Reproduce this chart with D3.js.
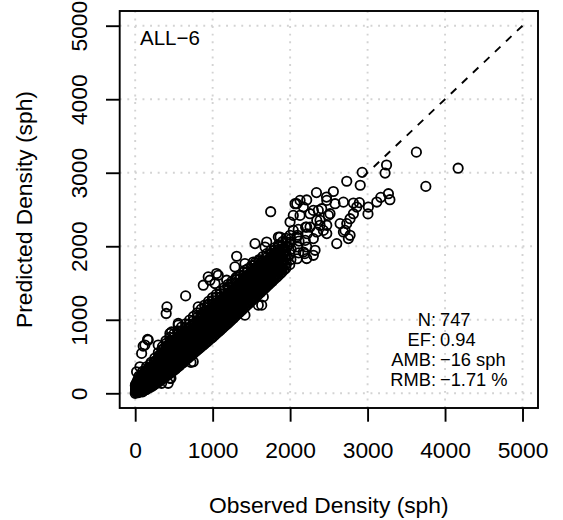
<!DOCTYPE html>
<html><head><meta charset="utf-8">
<script src="https://cdn.jsdelivr.net/npm/d3@7"></script>
<style>body{margin:0;background:#fff}svg{display:block}text{font-family:"Liberation Sans",Arial,Helvetica,sans-serif;fill:#000}</style>
</head><body><svg id="chart" width="563" height="520"></svg>
<script>
const xTicks = [0, 1000, 2000, 3000, 4000, 5000];
const yTicks = [0, 1000, 2000, 3000, 4000, 5000];
const panelLabel = "ALL\u22126";
const statLabels = ["N:", "EF:", "AMB:", "RMB:"];
const statValues = ["747", "0.94", "\u221216 sph", "\u22121.71 %"];
const refLine = [[5000, 5000], [2950, 2950]];

// dense band of sites (observed, predicted) - outer envelope
const band = [
[0,0],[10,30],[4,60],[20,15],[15,90],[6,120],[22,150],[12,45],[28,70],[2,105],
[45,10],[52,50],[48,90],[55,130],[42,170],[58,210],[50,235],[40,65],
[95,20],[103,60],[98,100],[105,140],[92,180],[108,220],[100,260],[96,300],
[145,50],[152,95],[148,140],[155,185],[142,230],[158,275],[150,320],[146,360],
[195,80],[203,125],[198,170],[205,215],[192,260],[208,305],[200,350],[196,395],[204,420],
[245,115],[253,160],[248,205],[255,250],[242,295],[258,340],[250,385],[246,430],[254,480],
[295,150],[303,195],[298,240],[305,285],[292,330],[308,375],[300,420],[296,465],[304,510],[299,555],
[345,190],[353,235],[348,280],[355,325],[342,370],[358,415],[350,460],[346,505],[354,550],[349,595],[352,635],
[395,230],[403,275],[398,320],[405,365],[392,410],[408,455],[400,500],[396,545],[404,590],[399,635],[402,680],[397,715],
[445,270],[453,315],[448,360],[455,405],[442,450],[458,495],[450,540],[446,585],[454,630],[449,675],[452,720],[447,760],
[495,310],[503,355],[498,400],[505,445],[492,490],[508,535],[500,580],[496,625],[504,670],[499,715],[502,760],[497,805],
[545,355],[553,400],[548,445],[555,490],[542,535],[558,580],[550,625],[546,670],[554,715],[549,760],[552,805],[547,850],
[595,400],[603,445],[598,490],[605,535],[592,580],[608,625],[600,670],[596,715],[604,760],[599,805],[602,850],[597,900],
[645,445],[653,495],[648,545],[655,595],[642,645],[658,695],[650,745],[646,795],[654,845],[649,895],[652,945],
[695,490],[703,540],[698,590],[705,640],[692,690],[708,740],[700,790],[696,840],[704,890],[699,940],[702,995],
[745,535],[753,585],[748,635],[755,685],[742,735],[758,785],[750,835],[746,885],[754,935],[749,985],[752,1045],
[795,580],[803,630],[798,680],[805,730],[792,780],[808,830],[800,880],[796,930],[804,980],[799,1030],[802,1095],
[845,625],[853,675],[848,725],[855,775],[842,825],[858,875],[850,925],[846,975],[854,1025],[849,1075],[852,1145],
[895,670],[903,720],[898,770],[905,820],[892,870],[908,920],[900,970],[896,1020],[904,1070],[899,1120],[902,1170],[897,1200],
[945,715],[953,765],[948,815],[955,865],[942,915],[958,965],[950,1015],[946,1065],[954,1115],[949,1165],[952,1215],[947,1250],
[995,760],[1003,810],[998,860],[1005,910],[992,960],[1008,1010],[1000,1060],[996,1110],[1004,1160],[999,1210],[1002,1260],[997,1300],
[1045,808],[1053,858],[1048,908],[1055,958],[1042,1008],[1058,1058],[1050,1108],[1046,1158],[1054,1208],[1049,1258],[1052,1308],[1047,1345],
[1095,855],[1103,905],[1098,955],[1105,1005],[1092,1055],[1108,1105],[1100,1155],[1096,1205],[1104,1255],[1099,1305],[1102,1355],[1097,1390],
[1145,903],[1153,953],[1148,1003],[1155,1053],[1142,1103],[1158,1153],[1150,1203],[1146,1253],[1154,1303],[1149,1353],[1152,1403],[1147,1435],
[1195,950],[1203,1000],[1198,1050],[1205,1100],[1192,1150],[1208,1200],[1200,1250],[1196,1300],[1204,1350],[1199,1400],[1202,1450],[1197,1480],
[1245,1000],[1253,1050],[1248,1100],[1255,1150],[1242,1200],[1258,1250],[1250,1300],[1246,1350],[1254,1400],[1249,1450],[1252,1500],[1247,1522],
[1295,1050],[1303,1100],[1298,1150],[1305,1200],[1292,1250],[1308,1300],[1300,1350],[1296,1400],[1304,1450],[1299,1500],[1302,1545],[1297,1565],
[1345,1100],[1353,1150],[1348,1200],[1355,1250],[1342,1300],[1358,1350],[1350,1400],[1346,1450],[1354,1500],[1349,1550],[1352,1608],
[1395,1150],[1403,1200],[1398,1250],[1405,1300],[1392,1350],[1408,1400],[1400,1450],[1396,1500],[1404,1550],[1399,1600],[1402,1650],
[1445,1200],[1453,1250],[1448,1300],[1455,1350],[1442,1400],[1458,1450],[1450,1500],[1446,1550],[1454,1600],[1449,1650],[1452,1692],
[1495,1250],[1503,1300],[1498,1350],[1505,1400],[1492,1450],[1508,1500],[1500,1550],[1496,1600],[1504,1650],[1499,1700],[1502,1735],
[1545,1300],[1553,1350],[1548,1400],[1555,1450],[1542,1500],[1558,1550],[1550,1600],[1546,1650],[1554,1700],[1549,1750],[1552,1778],
[1595,1350],[1603,1400],[1598,1450],[1605,1500],[1592,1550],[1608,1600],[1600,1650],[1596,1700],[1604,1750],[1599,1800],[1602,1820],
[1645,1400],[1653,1450],[1648,1500],[1655,1550],[1642,1600],[1658,1650],[1650,1700],[1646,1750],[1654,1800],[1649,1860],
[1695,1450],[1703,1500],[1698,1550],[1705,1600],[1692,1650],[1708,1700],[1700,1750],[1696,1800],[1704,1850],[1699,1900],
[1745,1500],[1753,1550],[1748,1600],[1755,1650],[1742,1700],[1758,1750],[1750,1800],[1746,1850],[1754,1900],[1749,1940],
[1795,1550],[1803,1600],[1798,1650],[1805,1700],[1792,1750],[1808,1800],[1800,1850],[1796,1900],[1804,1950],[1799,1980],
[1845,1600],[1853,1650],[1848,1700],[1855,1750],[1842,1800],[1858,1850],[1850,1900],[1846,1950],[1854,2000],[1849,2022],
[1895,1650],[1903,1700],[1898,1750],[1905,1800],[1892,1850],[1908,1900],[1900,1950],[1896,2000],[1904,2065],
[1945,1700],[1953,1760],[1948,1820],[1955,1880],[1942,1940],[1958,2000],[1950,2060],[1946,2108],
[1995,1750],[2010,1820],[1998,1890],[2012,1960],[1992,2030],[2008,2100],[2000,2150],
[2090,1830],[2110,1910],[2098,1990],[2115,2070],[2095,2150],[2105,2230],
[2190,1900],[2215,1990],[2195,2080],[2220,2170],[2200,2260]
];

// dense core of the band
const bandCore = [
[5,20],[15,50],[25,35],[8,80],[30,100],[18,130],[35,60],[28,160],[38,190],[62,30],[68,75],[65,115],[72,155],[60,195],[75,240],
[78,100],[85,60],[115,40],[120,80],[125,120],[118,160],[128,200],[122,240],[112,275],[135,70],[138,110],[132,150],[140,190],[135,230],[130,290],
[172,75],[178,120],[170,165],[180,210],[175,255],[168,300],[177,340],
[222,100],[228,145],[220,190],[230,235],[225,280],[218,325],[227,370],
[272,135],[278,180],[270,225],[280,270],[275,315],[268,360],[277,405],[273,450],
[322,170],[328,215],[320,260],[330,305],[325,350],[318,395],[327,440],[323,485],[326,530],
[372,210],[378,255],[370,300],[380,345],[375,390],[368,435],[377,480],[373,525],[376,570],[371,610],
[422,250],[428,295],[420,340],[430,385],[425,430],[418,475],[427,520],[423,565],[426,610],[421,655],
[472,290],[478,335],[470,380],[480,425],[475,470],[468,515],[477,560],[473,605],[476,650],[471,695],
[522,330],[528,375],[520,420],[530,465],[525,510],[518,555],[527,600],[523,645],[526,690],[521,735],
[572,375],[578,420],[570,465],[580,510],[575,555],[568,600],[577,645],[573,690],[576,735],[571,780],
[622,420],[628,465],[620,510],[630,555],[625,600],[618,645],[627,690],[623,735],[626,780],[621,825],
[672,470],[678,520],[670,570],[680,620],[675,670],[668,720],[677,770],[673,820],[676,870],
[722,515],[728,565],[720,615],[730,665],[725,715],[718,765],[727,815],[723,865],[726,915],
[772,560],[778,610],[770,660],[780,710],[775,760],[768,810],[777,860],[773,910],[776,960],
[822,605],[828,655],[820,705],[830,755],[825,805],[818,855],[827,905],[823,955],[826,1005],
[872,650],[878,700],[870,750],[880,800],[875,850],[868,900],[877,950],[873,1000],[876,1050],
[922,695],[928,745],[920,795],[930,845],[925,895],[918,945],[927,995],[923,1045],[926,1095],
[972,740],[978,790],[970,840],[980,890],[975,940],[968,990],[977,1040],[973,1090],[976,1140],
[1022,785],[1028,835],[1020,885],[1030,935],[1025,985],[1018,1035],[1027,1085],[1023,1135],[1026,1185],
[1072,833],[1078,883],[1070,933],[1080,983],[1075,1033],[1068,1083],[1077,1133],[1073,1183],[1076,1233],
[1122,880],[1128,930],[1120,980],[1130,1030],[1125,1080],[1118,1130],[1127,1180],[1123,1230],[1126,1280],
[1172,928],[1178,978],[1170,1028],[1180,1078],[1175,1128],[1168,1178],[1177,1228],[1173,1278],[1176,1328],
[1222,975],[1228,1025],[1220,1075],[1230,1125],[1225,1175],[1218,1225],[1227,1275],[1223,1325],[1226,1375],
[1272,1025],[1278,1075],[1270,1125],[1280,1175],[1275,1225],[1268,1275],[1277,1325],[1273,1375],[1276,1425],
[1322,1075],[1328,1125],[1320,1175],[1330,1225],[1325,1275],[1318,1325],[1327,1375],[1323,1425],[1326,1475],
[1372,1125],[1378,1175],[1370,1225],[1380,1275],[1375,1325],[1368,1375],[1377,1425],[1373,1475],[1376,1525],
[1422,1175],[1428,1225],[1420,1275],[1430,1325],[1425,1375],[1418,1425],[1427,1475],[1423,1525],[1426,1575],
[1472,1225],[1478,1275],[1470,1325],[1480,1375],[1475,1425],[1468,1475],[1477,1525],[1473,1575],[1476,1625],
[1522,1275],[1528,1325],[1520,1375],[1530,1425],[1525,1475],[1518,1525],[1527,1575],[1523,1625],[1526,1675],
[1572,1325],[1578,1375],[1570,1425],[1580,1475],[1575,1525],[1568,1575],[1577,1625],[1573,1675],[1576,1725],
[1622,1375],[1628,1425],[1620,1475],[1630,1525],[1625,1575],[1618,1625],[1627,1675],[1623,1725],[1626,1775],
[1672,1425],[1678,1475],[1670,1525],[1680,1575],[1675,1625],[1668,1675],[1677,1725],[1673,1775],
[1722,1475],[1728,1525],[1720,1575],[1730,1625],[1725,1675],[1718,1725],[1727,1775],[1723,1825],
[1772,1525],[1778,1575],[1770,1625],[1780,1675],[1775,1725],[1768,1775],[1777,1825],[1773,1875],
[1822,1575],[1828,1625],[1820,1675],[1830,1725],[1825,1775],[1818,1825],[1827,1875],[1823,1925],
[1872,1625],[1878,1675],[1870,1725],[1880,1775],[1875,1825],[1868,1875],[1877,1925],
[1922,1680],[1928,1740],[1920,1800],[1930,1860],[1925,1920],[1918,1980]
];

// individually readable sites
const scattered = [
[3630,3280],[4169,3062],[3752,2814],[3245,3105],[3226,2995],[2930,3005],[2905,2830],[2731,2884],[3269,2715],[3170,2665],
[3288,2633],[2558,2745],[2340,2730],[2214,2630],[2470,2669],[2688,2600],[2817,2588],[2894,2593],[3010,2533],[3005,2440],
[2774,2375],[2731,2308],[2688,2194],[2752,2104],[2602,2036],[2473,2172],[2386,2285],[2344,2194],[2300,2104],[2494,2420],
[2257,2443],[2645,2308],[2817,2443],[2860,2533],[3119,2601],[2580,2579],[2300,2488],[2408,2511],[2515,2443],[2171,2533],
[2128,2624],[2429,2216],[2214,2261],[2709,2216],[2774,2149],[2300,1877],[2214,1833],[2085,2579],[2364,2488],[2473,2624],
[2128,2420],[2344,2352],[2257,2261],[2473,2285],[2322,1945],[2386,2352],[2063,2579],
[1749,2470],[2041,2216],[2085,2126],[1870,2126],[1547,2036],[1310,1864],[1676,1990],[1762,1900],[1912,1968],[2171,1922],
[1999,2329],[2041,2420],[1698,2058],[1848,2126],[1999,2058],[651,1325],[410,1176],[400,1086],[943,1583],[1072,1606],
[879,1470],[1181,1538],[1310,1583],[1417,1674],[1525,1786],[1589,1697],[1417,1765],[1288,1719],[1030,1493],[1633,1583],
[1547,1470],[814,1176],[943,1199],[1417,1063],[1589,1199],[556,950],[470,836],[771,904],[1633,1199],[1654,1311],
[160,733],[103,642],[18,293],[61,361],[720,421],[461,204],[341,136],[168,724],[125,656],[297,656],
[83,543],[448,204],[426,136],[749,429],[685,497],[556,927],[448,814],[965,1538],[1051,1629]
];

const sites = band.concat(bandCore, scattered);

const svg = d3.select("#chart");
const L = 119.7, R = 538, T = 11, B = 408;
const x = d3.scaleLinear().domain([-200, 5200]).range([L, R]);
const y = d3.scaleLinear().domain([-200, 5200]).range([B, T]);
const lw = 1.9;

// grid
const grid = svg.append("g").attr("stroke", "#d3d3d3").attr("stroke-width", lw).attr("stroke-dasharray", "1.9,5.7");
grid.selectAll("line.v").data(xTicks).join("line").attr("class", "v")
  .attr("x1", d => x(d)).attr("x2", d => x(d)).attr("y1", B).attr("y2", T);
grid.selectAll("line.h").data(yTicks).join("line").attr("class", "h")
  .attr("y1", d => y(d)).attr("y2", d => y(d)).attr("x1", L).attr("x2", R);

// 1:1 reference line
svg.append("path").datum(refLine)
  .attr("d", d3.line().x(d => x(d[0])).y(d => y(d[1])))
  .attr("fill", "none").attr("stroke", "#000").attr("stroke-width", lw).attr("stroke-dasharray", "7.6,7.6");

// points
svg.append("g").selectAll("circle").data(sites).join("circle")
  .attr("cx", d => x(d[0])).attr("cy", d => y(d[1])).attr("r", 4.7)
  .attr("fill", "none").attr("stroke", "#000").attr("stroke-width", 1.8);

// axes
const xAxis = d3.axisBottom(x).tickValues(xTicks).tickSize(13.7).tickFormat(d3.format("d"));
const gx = svg.append("g").attr("transform", `translate(0,${B})`).call(xAxis);
gx.select(".domain").remove();
gx.selectAll(".tick line").attr("stroke", "#000").attr("stroke-width", lw);
gx.selectAll(".tick text").attr("font-size", "22.8px").attr("y", 0).attr("dy", 0)
  .attr("transform", "translate(0,50.3)").attr("font-family", '"Liberation Sans",Arial,sans-serif');

const yAxis = d3.axisLeft(y).tickValues(yTicks).tickSize(13.7).tickFormat(d3.format("d"));
const gy = svg.append("g").attr("transform", `translate(${L},0)`).call(yAxis);
gy.select(".domain").remove();
gy.selectAll(".tick line").attr("stroke", "#000").attr("stroke-width", lw);
gy.selectAll(".tick text").attr("font-size", "22.8px").attr("x", 0).attr("dy", 0)
  .attr("text-anchor", "middle").attr("transform", "translate(-33,0) rotate(-90)")
  .attr("font-family", '"Liberation Sans",Arial,sans-serif');

// box
svg.append("rect").attr("x", L).attr("y", T).attr("width", R - L).attr("height", B - T)
  .attr("fill", "none").attr("stroke", "#000").attr("stroke-width", lw);

// titles
svg.append("text").attr("x", (L + R) / 2).attr("y", 513).attr("text-anchor", "middle")
  .attr("font-size", "22.8px").text("Observed Density (sph)");
svg.append("text").attr("transform", `translate(31.5,${(T + B) / 2}) rotate(-90)`).attr("text-anchor", "middle")
  .attr("font-size", "22.8px").text("Predicted Density (sph)");

// panel label
svg.append("text").attr("x", 140).attr("y", 45).attr("font-size", "20.5px").text(panelLabel);

// stats
const sg = svg.append("g").attr("font-size", "18.3px");
sg.selectAll("text.lab").data(statLabels).join("text").attr("class", "lab")
  .attr("x", 436).attr("y", (d, i) => 326 + i * 20).attr("text-anchor", "end").text(d => d);
sg.selectAll("text.val").data(statValues).join("text").attr("class", "val")
  .attr("x", 440).attr("y", (d, i) => 326 + i * 20).attr("text-anchor", "start").text(d => d);
</script></body></html>
